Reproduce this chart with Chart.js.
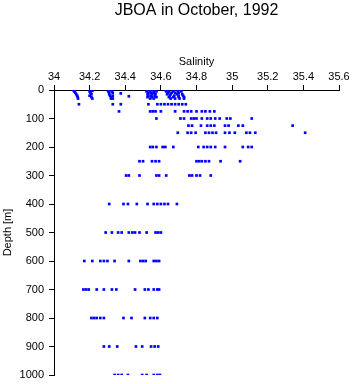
<!DOCTYPE html>
<html><head><meta charset="utf-8">
<script src="https://cdn.jsdelivr.net/npm/chart.js@4/dist/chart.umd.min.js"></script>
<style>html,body{margin:0;padding:0;background:#fff}</style>
</head><body>
<canvas id="c" width="353" height="384"></canvas>
<script>
const chartTitle = 'JBOA in October, 1992';
const xTitle = 'Salinity';
const yTitle = 'Depth [m]';
const xTicks = [34, 34.2, 34.4, 34.6, 34.8, 35, 35.2, 35.4, 35.6];
const yTicks = [0, 100, 200, 300, 400, 500, 600, 700, 800, 900, 1000];

// near-surface samples (0-30 m)
const surfaceDepth = [
  0,3,6,10,15,20,25,30,
  0,3,5,10,15,20,25,30,
  0,0,5,5,10,10,15,20,20,25,30,30,
  12,22,
  0,0,0,0, 5,5,5,5, 10,10,10, 15,15,15, 20,20,20, 25,25,25, 30,30,
  0,0,0,0,0, 5,5,5,5,5, 10,10,10,10, 15,15,15,15, 20,20,20,20, 25,25,25,25, 30,30,30,30
];
const surfaceSal = [
  34.11,34.112,34.115,34.12,34.125,34.13,34.133,34.135,
  34.2,34.215,34.2,34.205,34.21,34.2,34.21,34.215,
  34.30,34.32,34.305,34.325,34.31,34.33,34.31,34.315,34.33,34.32,34.32,34.33,
  34.375,34.42,
  34.525,34.54,34.555,34.57, 34.52,34.54,34.56,34.575, 34.53,34.545,34.56, 34.525,34.55,34.57, 34.53,34.545,34.565, 34.525,34.55,34.575, 34.54,34.56,
  34.625,34.64,34.665,34.69,34.71, 34.63,34.645,34.67,34.695,34.715, 34.64,34.66,34.68,34.70, 34.635,34.655,34.69,34.72, 34.65,34.675,34.70,34.725, 34.645,34.67,34.70,34.73, 34.655,34.68,34.705,34.73
];

// deeper sampling levels
const levelDepth = [50, 75, 100, 125, 150, 200, 250, 300, 400, 500, 600, 700, 800, 900, 1000];
const levelSal = [
  [34.14, 34.33, 34.375, 34.53, 34.58, 34.60, 34.62, 34.64, 34.66, 34.68, 34.70, 34.72, 34.74],
  [34.365, 34.54, 34.555, 34.57, 34.60, 34.68, 34.73, 34.75, 34.77, 34.80, 34.83, 34.85, 34.875, 34.90],
  [34.575, 34.71, 34.73, 34.77, 34.785, 34.80, 34.83, 34.86, 34.88, 34.905, 34.93, 34.97, 34.99, 35.11],
  [34.755, 34.775, 34.825, 34.86, 34.88, 34.90, 34.96, 34.98, 35.035, 35.06, 35.34],
  [34.695, 34.75, 34.77, 34.795, 34.85, 34.87, 34.89, 34.91, 34.96, 34.985, 35.015, 35.08, 35.10, 35.13, 35.41],
  [34.54, 34.555, 34.575, 34.61, 34.625, 34.67, 34.81, 34.84, 34.86, 34.88, 34.905, 34.96, 35.06, 35.09, 35.11],
  [34.48, 34.50, 34.55, 34.57, 34.59, 34.80, 34.815, 34.83, 34.85, 34.87, 34.935, 35.045],
  [34.405, 34.42, 34.48, 34.575, 34.59, 34.63, 34.76, 34.775, 34.80, 34.82, 34.88],
  [34.31, 34.39, 34.415, 34.465, 34.525, 34.56, 34.58, 34.60, 34.62, 34.64, 34.69],
  [34.29, 34.325, 34.36, 34.38, 34.42, 34.44, 34.455, 34.48, 34.52, 34.57, 34.585, 34.60],
  [34.17, 34.215, 34.26, 34.28, 34.30, 34.34, 34.42, 34.485, 34.50, 34.515, 34.56, 34.575, 34.59],
  [34.165, 34.18, 34.195, 34.24, 34.28, 34.325, 34.35, 34.455, 34.51, 34.53, 34.56, 34.58, 34.59],
  [34.21, 34.225, 34.24, 34.26, 34.28, 34.39, 34.435, 34.51, 34.54, 34.56, 34.58],
  [34.28, 34.31, 34.355, 34.46, 34.495, 34.545, 34.565, 34.585],
  [34.34, 34.36, 34.38, 34.415, 34.495, 34.52, 34.56, 34.58, 34.595]
];

const points = [];
surfaceDepth.forEach((d, i) => points.push({x: surfaceSal[i], y: d}));
levelDepth.forEach((d, i) => levelSal[i].forEach(s => points.push({x: s, y: d})));

const FONT = 'Liberation Sans, Arial, Helvetica, sans-serif';

const titlePlugin = {
  id: 'centerTitle',
  afterDraw(chart) {
    const {ctx, chartArea} = chart;
    ctx.save();
    ctx.font = '16px ' + FONT;
    ctx.fillStyle = '#000';
    ctx.textAlign = 'center';
    ctx.textBaseline = 'alphabetic';
    ctx.fillText(chartTitle, (chartArea.left + chartArea.right) / 2, 14.5);
    ctx.restore();
  }
};

new Chart(document.getElementById('c'), {
  type: 'scatter',
  data: { datasets: [{
    data: points,
    pointStyle: 'rect',
    pointRadius: 1.9,
    pointHoverRadius: 1.9,
    backgroundColor: '#0000ff',
    borderColor: '#0000ff',
    borderWidth: 0
  }]},
  options: {
    responsive: false,
    animation: false,
    events: [],
    layout: { padding: { top: 0, right: 14, bottom: 9, left: 0 } },
    plugins: { legend: { display: false }, tooltip: { enabled: false }, title: { display: false } },
    scales: {
      x: {
        type: 'linear', position: 'top', min: 34, max: 35.6,
        afterBuildTicks(s) { s.ticks = xTicks.map(v => ({value: v})); },
        afterFit(s) { s.height = 90; s.paddingLeft = 0; s.paddingRight = 0; },
        ticks: { color: '#000', font: { family: FONT, size: 11 }, padding: 1, maxRotation: 0, autoSkip: false,
          callback: v => String(Math.round(v * 10) / 10) },
        grid: { drawOnChartArea: false, drawTicks: true, tickLength: 5, color: '#000', lineWidth: 1 },
        border: { display: true, color: '#000', width: 1 },
        title: { display: true, text: xTitle, color: '#000', font: { family: FONT, size: 11 }, padding: { top: 55, bottom: 0 } }
      },
      y: {
        type: 'linear', position: 'left', min: 0, max: 1000, reverse: true,
        afterBuildTicks(s) { s.ticks = yTicks.map(v => ({value: v})); },
        afterFit(s) { s.width = 54; s.paddingTop = 0; s.paddingBottom = 0; },
        ticks: { color: '#000', font: { family: FONT, size: 11 }, padding: 5, autoSkip: false,
          callback: v => String(v) },
        grid: { drawOnChartArea: false, drawTicks: true, tickLength: 5, color: '#000', lineWidth: 1 },
        border: { display: true, color: '#000', width: 1 },
        title: { display: true, text: yTitle, color: '#000', font: { family: FONT, size: 11 }, padding: { top: 1, bottom: 0 } }
      }
    }
  },
  plugins: [titlePlugin]
});
</script>
</body></html>
